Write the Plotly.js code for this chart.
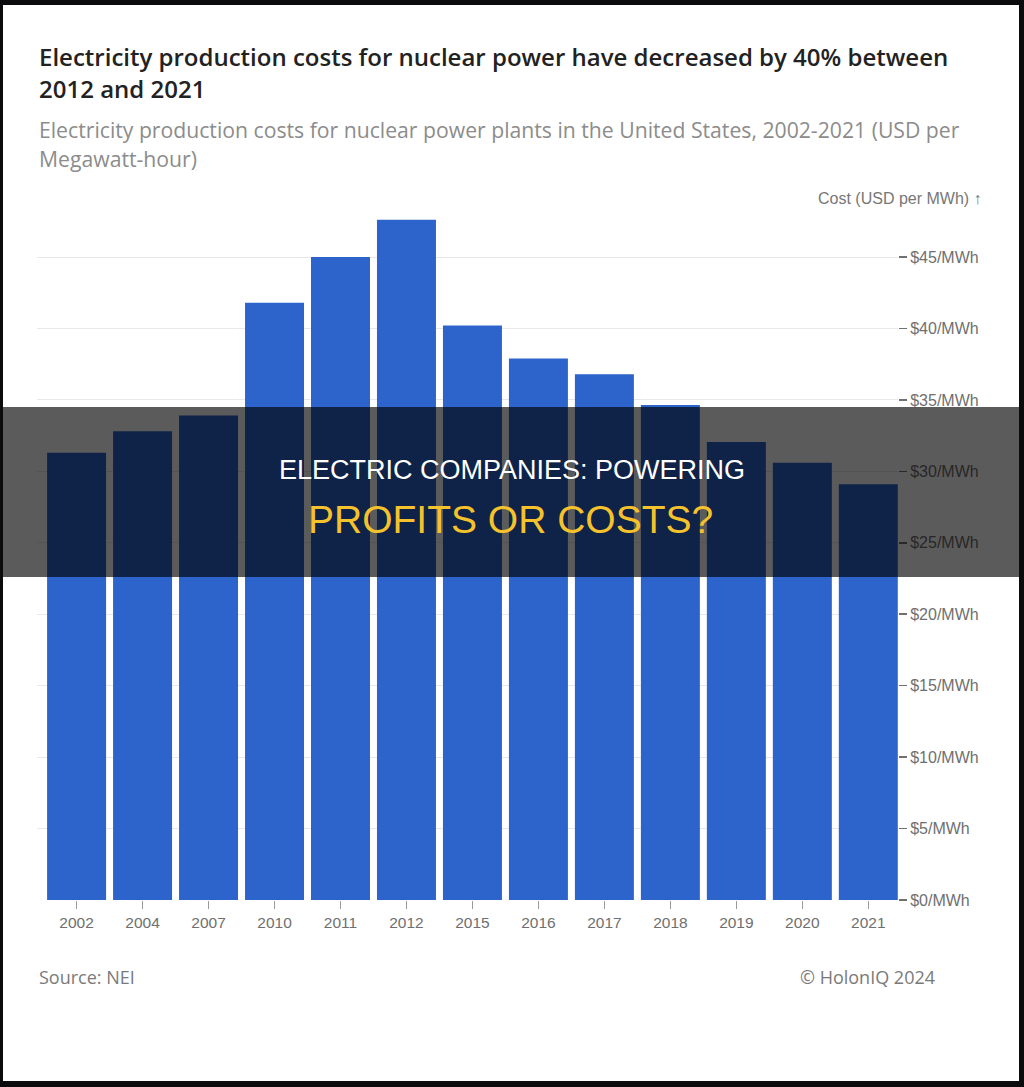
<!DOCTYPE html>
<html>
<head>
<meta charset="utf-8">
<script src="https://cdn.plot.ly/plotly-3.0.1.min.js"></script>
<style>
  html, body { margin: 0; padding: 0; background: #0b0b0d; width: 1024px; height: 1087px; overflow: hidden; }
  #chart { position: absolute; left: 3px; top: 5px; width: 1016px; height: 1076px; background: #fff; }
</style>
</head>
<body>
<div id="chart"></div>
<script>
// ---- data ----
const years = ["2002", "2004", "2007", "2010", "2011", "2012", "2015", "2016", "2017", "2018", "2019", "2020", "2021"];
const costs = [31.3, 32.8, 33.9, 41.8, 45.0, 47.6, 40.2, 37.9, 36.8, 34.65, 32.05, 30.6, 29.1];
const yTickVals = [0, 5, 10, 15, 20, 25, 30, 35, 40, 45];
const yTickText = yTickVals.map(v => '$' + v + '/MWh');

const titleLine1 = "Electricity production costs for nuclear power have decreased by 40% between";
const titleLine2 = "2012 and 2021";
const subLine1 = "Electricity production costs for nuclear power plants in the United States, 2002-2021 (USD per";
const subLine2 = "Megawatt-hour)";
const yTitle = "Cost (USD per MWh) ↑";
const sourceText = "Source: NEI";
const creditText = "© HolonIQ 2024";
const bannerLine1 = "ELECTRIC COMPANIES: POWERING";
const bannerLine2 = "PROFITS OR COSTS?";

// ---- layout geometry (div is offset 3,5 in page) ----
const W = 1016, H = 1076;
const mL = 34, mR = 121, mT = 202, mB = 181;
const plotW = W - mL - mR, plotH = H - mT - mB;
const ax = x => (x - 3 - mL) / plotW;            // page x -> paper x
const ay = y => (H - mB - (y - 5)) / plotH;       // page y -> paper y

const uiFont = "'Open Sans', 'Noto Sans', sans-serif";
const arial = "'Liberation Sans', Arial, sans-serif";

const trace = {
  type: 'bar',
  x: years,
  y: costs,
  marker: { color: '#2c64cb' },
  hoverinfo: 'skip'
};

const layout = {
  width: W, height: H,
  margin: { l: mL, r: mR, t: mT, b: mB, pad: 0 },
  paper_bgcolor: '#ffffff',
  plot_bgcolor: '#ffffff',
  showlegend: false,
  bargap: 0.106,
  xaxis: {
    type: 'category',
    range: [-0.6, 12.45],
    showgrid: false, zeroline: false, showline: false,
    ticks: 'outside', ticklen: 8, tickcolor: '#9a9a9a', tickwidth: 1,
    tickfont: { family: arial, size: 15.5, color: '#6f6f6f' },
    fixedrange: true
  },
  yaxis: {
    side: 'right',
    range: [0, 48.5],
    tickmode: 'array',
    tickvals: yTickVals,
    ticktext: yTickText,
    showgrid: true, gridcolor: '#e8e8e8', gridwidth: 1,
    zeroline: false, showline: false,
    ticks: 'outside', ticklen: 8, tickcolor: '#707070', tickwidth: 1.5,
    tickfont: { family: arial, size: 16, color: '#6f6f6f' },
    fixedrange: true
  },
  shapes: [{
    type: 'rect', xref: 'paper', yref: 'paper', layer: 'above',
    x0: ax(0), x1: ax(1024), y0: ay(577), y1: ay(407),
    fillcolor: 'rgba(0,0,0,0.645)', line: { width: 0 }
  }],
  annotations: [
    { text: titleLine1, xref: 'paper', yref: 'paper', x: ax(37), y: ay(56), xanchor: 'left', yanchor: 'middle', showarrow: false,
      font: { family: uiFont, size: 24, color: '#222222', weight: 600 } },
    { text: titleLine2, xref: 'paper', yref: 'paper', x: ax(37), y: ay(89), xanchor: 'left', yanchor: 'middle', showarrow: false,
      font: { family: uiFont, size: 24, color: '#222222', weight: 600 } },
    { text: subLine1, xref: 'paper', yref: 'paper', x: ax(37), y: ay(130), xanchor: 'left', yanchor: 'middle', showarrow: false,
      font: { family: uiFont, size: 21.2, color: '#8c8c8c' } },
    { text: subLine2, xref: 'paper', yref: 'paper', x: ax(37), y: ay(158), xanchor: 'left', yanchor: 'middle', showarrow: false,
      font: { family: uiFont, size: 21.2, color: '#8c8c8c' } },
    { text: yTitle, xref: 'paper', yref: 'paper', x: ax(984), y: ay(198), xanchor: 'right', yanchor: 'middle', showarrow: false,
      font: { family: arial, size: 16, color: '#777777' } },
    { text: sourceText, xref: 'paper', yref: 'paper', x: ax(37), y: ay(977), xanchor: 'left', yanchor: 'middle', showarrow: false,
      font: { family: uiFont, size: 18, color: '#7a7a7a' } },
    { text: creditText, xref: 'paper', yref: 'paper', x: ax(937), y: ay(977), xanchor: 'right', yanchor: 'middle', showarrow: false,
      font: { family: uiFont, size: 18, color: '#7a7a7a' } },
    { text: bannerLine1, xref: 'paper', yref: 'paper', x: ax(512), y: ay(470), xanchor: 'center', yanchor: 'middle', showarrow: false,
      font: { family: arial, size: 27, color: '#ffffff' } },
    { text: bannerLine2, xref: 'paper', yref: 'paper', x: ax(510), y: ay(519), xanchor: 'center', yanchor: 'middle', showarrow: false,
      font: { family: arial, size: 39, color: '#f6c22c' } }
  ]
};

Plotly.newPlot('chart', [trace], layout, { displayModeBar: false, staticPlot: true });
</script>
</body>
</html>
